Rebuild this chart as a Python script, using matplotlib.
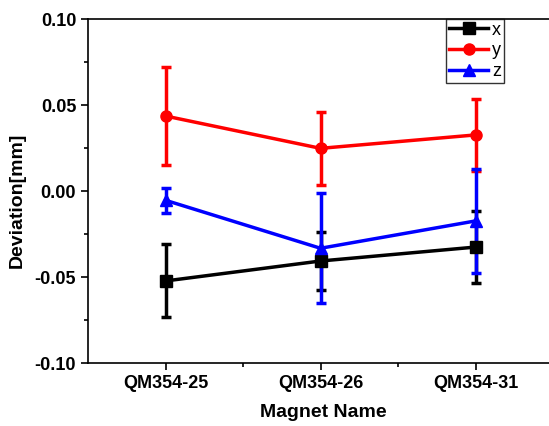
import matplotlib.pyplot as plt
from matplotlib.lines import Line2D
import numpy as np

plt.rcParams['font.family'] = ['Liberation Sans', 'DejaVu Sans']

magnets = ['QM354-25', 'QM354-26', 'QM354-31']

x_dev = [-0.0523, -0.0407, -0.0326]
x_err = [0.0212, 0.0170, 0.0210]
y_dev = [0.0436, 0.0248, 0.0326]
y_err = [0.0284, 0.0211, 0.0211]
z_dev = [-0.0054, -0.0333, -0.0174]
z_err = [0.0071, 0.0320, 0.0300]

fig = plt.figure(figsize=(5.49, 4.26), dpi=100)
ax = fig.add_axes([88 / 549, 1 - 363 / 426, (558 - 88) / 549, (363 - 19) / 426])

pos = np.arange(1, len(magnets) + 1)
series = [
    ('x', x_dev, x_err, 'black', 's'),
    ('y', y_dev, y_err, 'red', 'o'),
    ('z', z_dev, z_err, 'blue', '^'),
]
handles = []
for name, vals, errs, color, marker in series:
    ax.errorbar(pos, vals, yerr=errs, color=color, marker=marker, markersize=8,
                linewidth=2.5, elinewidth=2.5, capsize=3.3, capthick=2.5)
    handles.append(Line2D([0], [0], color=color, marker=marker, markersize=8,
                          linewidth=2.5, label=name))

# x range chosen so that category spacing matches the reference
ax.set_xlim(0.5, 3.532)
ax.set_ylim(-0.10, 0.10)
ax.set_xticks(pos)
ax.set_xticklabels(magnets)
ax.set_xticks([1.5, 2.5], minor=True)
ax.set_yticks([-0.10, -0.05, 0.00, 0.05, 0.10])
ax.set_yticklabels(['-0.10', '-0.05', '0.00', '0.05', '0.10'])
ax.set_yticks([-0.075, -0.025, 0.025, 0.075], minor=True)
ax.tick_params(which='both', direction='out', width=1.2, labelsize=13)
ax.tick_params(which='major', length=5)
ax.tick_params(which='minor', length=3)
for lab in ax.get_xticklabels() + ax.get_yticklabels():
    lab.set_fontweight('bold')
for s in ax.spines.values():
    s.set_linewidth(1.2)

ax.set_xlabel('Magnet Name', fontsize=14, fontweight='bold', labelpad=9)
ax.set_ylabel('Deviation[mm]', fontsize=14, fontweight='bold')
ax.yaxis.set_label_coords(-0.132, 0.474)

leg = ax.legend(handles=handles, loc='upper left',
                bbox_to_anchor=((446 - 88) / 470, 1.0),
                fontsize=13, frameon=True, fancybox=False, borderpad=0.15,
                handlelength=2.2, handletextpad=0.2, labelspacing=0.2,
                borderaxespad=0)
leg.get_frame().set_edgecolor('black')
leg.get_frame().set_linewidth(1.0)

fig.savefig('out.png', dpi=100)
